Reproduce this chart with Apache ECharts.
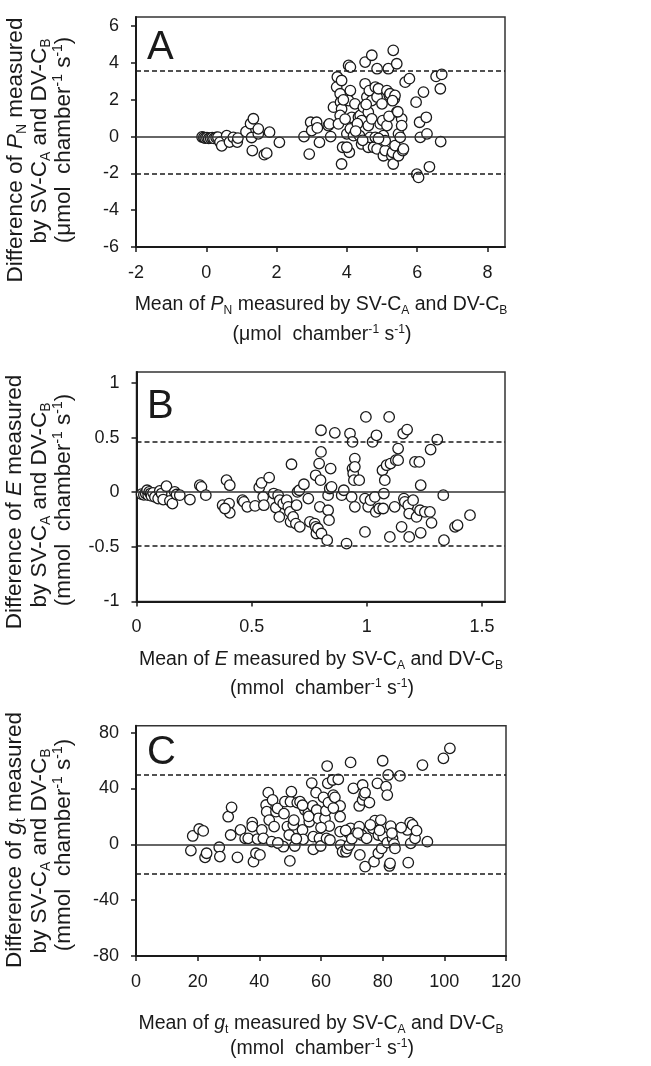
<!DOCTYPE html>
<html>
<head>
<meta charset="utf-8">
<script src="https://cdn.jsdelivr.net/npm/echarts@6/dist/echarts.min.js"></script>
<style>
  html, body { margin: 0; padding: 0; background: #fff; }
  #chart { width: 651px; height: 1066px; }
</style>
</head>
<body>
<div id="chart"></div>
<script>
// Panel A: P_N (mean, difference)
const panelA = [
  [-0.12,-0.02],[-0.07,-0.05],[-0.03,-0.08],[0.02,-0.06],[0.07,-0.1],[0.12,-0.08],[0.17,-0.06],[0.22,-0.1],[0.28,-0.05],[0.33,-0.03],
  [0.39,-0.3],[0.44,-0.5],[0.58,0.05],[0.66,-0.3],[0.77,-0.04],[0.88,-0.3],[0.9,-0.08],
  [1.13,0.27],[1.26,0.7],[1.34,0.97],[1.29,-0.05],[1.31,-0.76],[1.48,0.15],[1.48,0.42],[1.65,-0.98],[1.72,-0.9],[1.8,0.24],[2.08,-0.31],
  [2.78,0],[2.93,-0.95],[2.97,0.78],[3.0,0.33],[3.14,0.78],[3.16,0.47],[3.22,-0.31],[3.47,0.6],[3.5,0.69],[3.54,0],[3.62,1.6],
  [3.73,3.24],[3.71,2.69],[3.85,3.05],[3.81,2.33],[3.82,1.87],[3.85,1.5],[3.81,1.15],[3.76,0.69],[3.88,-0.58],[3.85,-1.49],
  [4.0,0.15],[4.05,3.87],[4.1,3.78],[4.1,2.5],[4.05,1.96],[4.1,0.42],[4.07,-0.85],[4.0,-0.58],[4.14,1.05],[4.23,1.78],[4.19,0.05],
  [4.33,1.05],[4.38,1.15],[4.36,0.05],[4.42,0.87],[4.42,-0.4],[4.47,1.6],[4.52,4.05],[4.52,2.87],[4.57,2.15],[4.61,1.33],[4.61,0.6],
  [4.61,-0.58],[4.66,-0.04],[4.71,4.42],[4.64,2.5],[4.71,1.96],[4.71,0.96],[4.76,-0.58],[4.81,-0.04],[4.81,2.69],[4.86,3.69],
  [4.86,2.15],[4.86,-0.67],[4.9,2.6],[4.95,0.69],[5.0,1.78],[5.02,0.87],[5.04,0.05],[5.04,-1.04],[5.09,-0.76],[5.09,-0.22],
  [5.14,2.5],[5.14,0.6],[5.18,3.69],[5.21,2.24],[5.23,2.33],[5.28,-1.04],[5.3,-0.85],[5.32,4.69],[5.32,-1.49],[5.35,2.05],
  [5.37,2.24],[5.42,3.96],[5.37,-0.49],[5.42,1.33],[5.47,0.15],[5.47,-1.04],[5.52,-0.04],[5.56,0.96],[5.56,0.6],[5.59,-0.76],
  [5.61,-0.67],[5.66,2.96],[5.78,3.15],[5.97,1.87],[5.99,-2.04],[6.04,-2.22],[6.07,0.78],[6.09,-0.04],[6.18,2.42],[6.26,1.05],
  [6.28,0.15],[6.35,-1.64],[6.54,3.27],[6.66,2.6],[6.7,3.38],[6.67,-0.27],
  [3.95,0.95],[4.3,0.7],[4.45,-0.2],[4.9,-0.1],[5.2,1.1],[5.45,1.35],[3.9,2.0],[4.25,0.3],[4.55,1.75],[5.3,1.95]
];

// Panel B: E
const panelB = [
  [0.022,-0.018],[0.032,-0.024],[0.04,-0.012],[0.046,0.018],[0.051,-0.027],[0.055,0.003],[0.061,-0.012],[0.065,-0.034],[0.072,-0.006],[0.08,-0.043],
  [0.094,-0.058],[0.101,0.012],[0.109,-0.012],[0.116,-0.067],[0.13,0.055],[0.145,-0.079],[0.156,-0.104],[0.166,0.003],[0.174,-0.021],[0.188,-0.027],
  [0.232,-0.067],[0.275,0.064],[0.282,0.049],[0.301,-0.027],
  [0.374,-0.119],[0.391,0.11],[0.405,0.064],[0.402,-0.104],[0.405,-0.189],[0.384,-0.149],
  [0.46,-0.073],[0.466,-0.088],[0.481,-0.134],[0.515,-0.125],[0.533,0.043],[0.543,0.085],[0.55,-0.043],[0.553,-0.119],[0.576,0.134],
  [0.596,-0.012],[0.605,-0.14],[0.615,-0.027],[0.62,-0.226],[0.622,-0.073],[0.637,-0.104],[0.652,-0.073],[0.659,-0.134],[0.666,-0.18],
  [0.673,0.256],[0.669,-0.271],[0.68,-0.226],[0.692,-0.287],[0.695,-0.119],[0.699,0.003],[0.707,0.018],[0.709,-0.317],[0.727,0.073],
  [0.746,-0.058],[0.753,-0.271],[0.774,-0.287],[0.778,0.155],[0.778,-0.317],[0.781,-0.378],[0.788,-0.332],[0.793,0.262],[0.796,-0.134],
  [0.799,0.11],[0.801,0.567],[0.801,0.369],[0.803,-0.378],[0.828,-0.439],[0.832,-0.027],[0.832,-0.165],[0.836,-0.256],[0.839,0.034],
  [0.843,0.216],[0.847,0.049],[0.861,0.543],[0.891,-0.027],[0.9,0.018],[0.912,-0.47],[0.927,0.537],[0.934,-0.043],[0.938,0.46],
  [0.938,0.216],[0.941,0.171],[0.944,0.11],[0.948,0.308],[0.948,-0.134],[0.948,0.232],[0.967,0.11],[0.992,-0.058],[0.992,-0.363],
  [0.996,0.689],[1.006,-0.134],[1.016,-0.073],[1.025,0.46],[1.035,-0.043],[1.039,-0.18],[1.042,0.521],[1.054,-0.149],[1.068,0.201],
  [1.071,-0.149],[1.074,-0.012],[1.078,0.11],[1.086,0.247],[1.097,0.689],[1.1,-0.409],[1.103,0.262],[1.121,-0.134],[1.126,0.293],
  [1.136,0.293],[1.136,0.399],[1.151,-0.317],[1.158,0.537],[1.161,-0.058],[1.165,-0.088],[1.175,0.573],[1.18,-0.119],[1.184,-0.195],
  [1.184,-0.409],[1.201,-0.073],[1.209,0.277],[1.216,-0.226],[1.228,0.277],[1.231,-0.165],[1.234,0.064],[1.234,-0.372],[1.252,-0.18],
  [1.274,-0.18],[1.281,-0.28],[1.277,0.39],[1.306,0.482],[1.332,-0.027],[1.335,-0.439],[1.383,-0.317],[1.394,-0.302],[1.448,-0.21]
];

// Panel C: g_t
const panelC = [
  [17.8,-4.5],[18.4,6.0],[20.5,11.0],[21.8,9.6],[22.4,-9.3],[22.9,-6.4],[27.0,-2.1],[27.2,-8.8],[29.9,19.8],[31.0,26.5],[30.7,6.7],
  [32.9,-9.3],[33.9,10.3],[35.4,4.3],[36.4,4.3],[37.7,15.5],[37.7,12.7],[38.1,-12.4],[38.9,-6.4],[39.4,3.8],[40.2,-7.6],[40.8,10.3],
  [41.3,4.3],[42.2,28.2],[42.4,23.4],[42.9,37.0],[43.2,17.4],[44.3,31.8],[44.8,12.7],[45.4,23.4],[45.9,25.8],[46.2,0.7],[47.8,-1.7],
  [48.3,30.6],[49.1,12.7],[49.7,6.7],[49.9,-11.9],[50.1,30.6],[50.4,37.7],[51.0,13.9],[51.2,17.4],[51.5,-1.2],[52.3,29.9],[53.2,30.6],
  [54.0,10.3],[54.2,3.6],[54.8,24.6],[55.9,22.2],[56.2,16.2],[57.0,43.9],[57.3,27.5],[57.5,5.5],[57.5,-3.6],[58.4,37.0],[58.6,24.6],
  [59.1,18.6],[59.5,4.3],[59.9,-1.2],[60.8,33.7],[61.3,18.6],[61.6,24.1],[61.8,4.3],[62.0,56.1],[62.2,43.7],[62.4,29.9],[62.7,13.1],
  [62.9,3.1],[63.8,46.1],[64.0,35.3],[64.5,33.7],[65.6,46.6],[66.2,27.5],[66.2,19.8],[66.4,-0.5],[66.2,9.1],[67.0,-5.3],[68.1,-5.3],
  [68.5,-2.9],[68.9,8.4],[69.2,-0.5],[69.6,58.7],[69.6,11.5],[70.5,40.1],[71.4,8.4],[72.4,27.5],[72.4,12.7],[72.6,-7.6],[73.2,6.7],
  [73.5,42.5],[73.5,31.8],[74.0,35.3],[74.3,37.0],[74.3,-16.0],[74.8,4.3],[75.7,29.9],[76.8,11.5],[77.2,-12.4],[77.5,17.0],[78.3,43.7],
  [78.6,-6.4],[78.6,6.7],[79.4,17.4],[79.7,-2.9],[80.0,59.9],[80.2,5.5],[81.1,41.3],[81.5,35.3],[81.8,49.7],[81.5,1.2],[82.2,-15.5],
  [82.4,-13.6],[82.6,13.1],[83.2,4.3],[83.7,0.2],[84.0,-2.9],[85.6,49.0],[88.3,-13.1],[88.0,10.3],[88.9,15.5],[89.1,0.7],[89.7,13.9],
  [90.5,4.3],[91.0,9.8],[92.9,56.8],[94.5,1.9],[99.7,61.6],[101.8,68.8],
  [44,2],[46,1],[52,4],[56,20],[60,12],[64,26],[68,10],[70,4],[72,8],[76,14],[79,10],[83,8],[86,12],[48,22],[54,28]
];

// limits of agreement (upper, lower) per panel
const limitsA = [3.6, -2.0];
const limitsB = [0.46, -0.49];
const limitsC = [50, -21];

// axis ranges [min, max, interval]
const xRanges = [[-2, 8.5, 2], [0, 1.6, 0.5], [0, 120, 20]];
const yRanges = [[-6, 6.5, 2], [-1, 1.1, 0.5], [-80, 85, 40]];

const letters = ['A', 'B', 'C'];

const font = '"Liberation Sans", Arial, sans-serif';
const ink = '#1a1a1a';

const grids = [
  { left: 136, top: 17, width: 369, height: 230 },
  { left: 136.5, top: 372, width: 368.5, height: 229.5 },
  { left: 136, top: 725.7, width: 370, height: 230.3 }
];

function rich(size) {
  return {
    n: { fontSize: size, fontFamily: font, color: ink, lineHeight: size * 1.15 },
    i: { fontSize: size, fontFamily: font, fontStyle: 'italic', color: ink, lineHeight: size * 1.15 },
    sub: { fontSize: size * 0.62, fontFamily: font, color: ink, verticalAlign: 'bottom', lineHeight: size * 0.5 },
    sup: { fontSize: size * 0.62, fontFamily: font, color: ink, verticalAlign: 'top', lineHeight: size * 0.5 }
  };
}

function textEl(text, x, y, size, rotate) {
  return {
    type: 'text', x: x, y: y, rotation: rotate ? Math.PI / 2 : 0, silent: true,
    style: { text: text, rich: rich(size), align: 'center', verticalAlign: 'middle', fill: ink }
  };
}

const varA = '{i|P}{sub|N}';
const varB = '{i|E}';
const varC = '{i|g}{sub|t}';
const byLine = '{n|by SV-C}{sub|A}{n| and DV-C}{sub|B}';
const unitUmol = '{n|(μmol  chamber}{sup|-1}{n| s}{sup|-1}{n|)}';
const unitMmol = '{n|(mmol  chamber}{sup|-1}{n| s}{sup|-1}{n|)}';

const vars = [varA, varB, varC];
const units = [unitUmol, unitMmol, unitMmol];

// title positions
const xTitleY = [[305, 335], [660, 689], [1024, 1049]];
const yTitlePos = [
  [[16, 150], [40, 141], [64, 140]],
  [[15, 502], [40, 505], [64, 500]],
  [[15, 840], [40, 851], [64, 845]]
];
const letterY = [48, 407, 753];

const graphic = [];
for (let i = 0; i < 3; i++) {
  graphic.push(textEl('{n|Mean of }' + vars[i] + '{n| measured by SV-C}{sub|A}{n| and DV-C}{sub|B}', 321, xTitleY[i][0], 19.5, false));
  graphic.push(textEl(units[i], 322, xTitleY[i][1], 19.5, false));
  const yp = yTitlePos[i];
  graphic.push(textEl('{n|Difference of }' + vars[i] + '{n| measured}', yp[0][0], yp[0][1], 22.5, true));
  graphic.push(textEl(byLine, yp[1][0], yp[1][1], 22.5, true));
  graphic.push(textEl(units[i], yp[2][0], yp[2][1], 22.5, true));
  graphic.push({
    type: 'text', x: 147, y: letterY[i], silent: true,
    style: { text: letters[i], font: '40px ' + font, fill: ink, align: 'left', verticalAlign: 'middle' }
  });
}

const axisCommon = {
  splitLine: { show: false },
  axisLine: { onZero: false, lineStyle: { color: ink, width: 2 } },
  axisTick: { inside: false, length: 5, lineStyle: { color: ink, width: 1.5 } }
};

const xAxes = xRanges.map((r, i) => Object.assign({}, axisCommon, {
  type: 'value', gridIndex: i, min: r[0], max: r[1], interval: r[2],
  axisLabel: { fontSize: 18, fontFamily: font, color: ink, margin: 17, showMaxLabel: r[1] % r[2] === 0 }
}));

const yAxes = yRanges.map((r, i) => Object.assign({}, axisCommon, {
  type: 'value', gridIndex: i, min: r[0], max: r[1], interval: r[2],
  axisLabel: { fontSize: 18, fontFamily: font, color: ink, margin: 17, showMaxLabel: false }
}));

const panels = [panelA, panelB, panelC];
const limits = [limitsA, limitsB, limitsC];

const series = [];
panels.forEach((pts, i) => {
  series.push({
    type: 'line', xAxisIndex: i, yAxisIndex: i, data: [], z: 1, silent: true,
    markLine: {
      silent: true, symbol: 'none', label: { show: false }, animation: false,
      lineStyle: { color: ink, width: 1.5, type: [5, 3] },
      data: [
        { yAxis: 0, lineStyle: { type: 'solid', color: '#333', width: 1.6 } },
        { yAxis: limits[i][0] },
        { yAxis: limits[i][1] }
      ]
    }
  });
  series.push({
    type: 'scatter', xAxisIndex: i, yAxisIndex: i, data: pts, z: 3,
    symbol: 'circle', symbolSize: 10.5,
    itemStyle: { color: '#fff', borderColor: ink, borderWidth: 1.3, opacity: 1 }
  });
});

const chart = echarts.init(document.getElementById('chart'));
chart.setOption({
  animation: false,
  backgroundColor: '#fff',
  grid: grids.map(g => Object.assign({ show: true, borderColor: '#333', borderWidth: 1.5, containLabel: false }, g)),
  xAxis: xAxes,
  yAxis: yAxes,
  series: series,
  graphic: graphic
});
</script>
</body>
</html>
